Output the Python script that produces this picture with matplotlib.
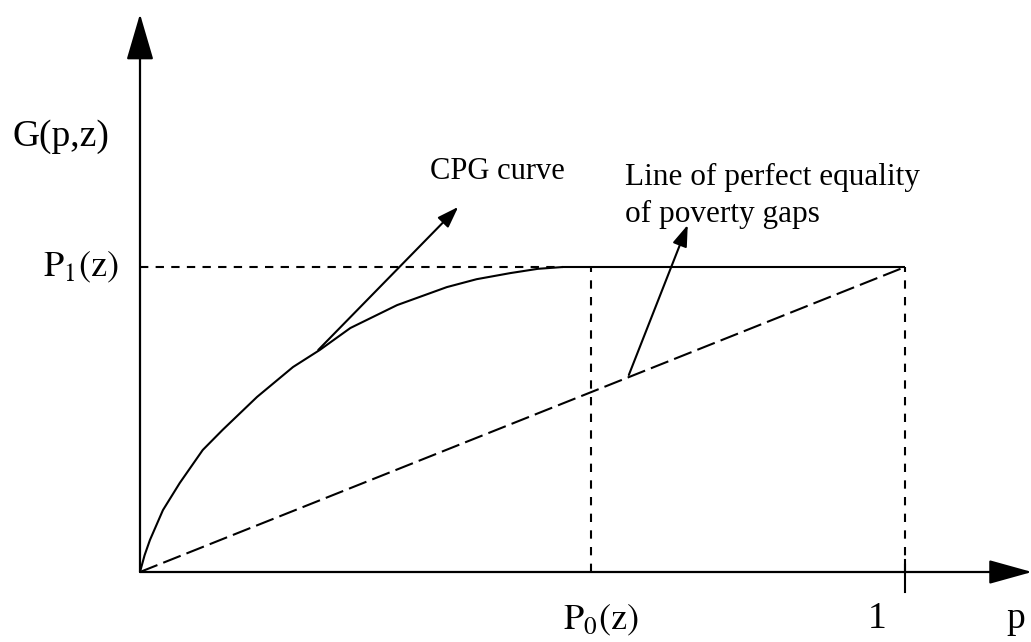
import matplotlib
matplotlib.use("Agg")
import matplotlib.pyplot as plt
from matplotlib.patches import FancyArrowPatch

plt.rcParams['font.family'] = ['Liberation Serif', 'DejaVu Serif']
plt.rcParams['mathtext.fontset'] = 'stix'

# ---- data (p on x, G(p,z) on y; P1(z) normalised to 1) ----
P1 = 1.0
P0 = 0.59
cpg_p = [0.0, 0.006, 0.013, 0.030, 0.052, 0.082, 0.108, 0.153, 0.200, 0.235, 0.275,
         0.336, 0.401, 0.440, 0.484, 0.520, 0.553, 0.59, 1.0]
cpg_g = [0.0, 0.055, 0.105, 0.203, 0.292, 0.400, 0.466, 0.574, 0.672, 0.728, 0.800,
         0.875, 0.934, 0.960, 0.980, 0.994, 1.0, 1.0, 1.0]
eq_p = [0.0, 1.0]
eq_g = [0.0, P1]

# annotation arrows: (start, end)
cpg_arrow = ((0.233, 0.728), (0.416, 1.197))
eq_arrow = ((0.639, 0.646), (0.716, 1.138))

W, H = 1031, 642
fig = plt.figure(figsize=(W / 100, H / 100), dpi=100)
ax = fig.add_axes([0, 0, 1, 1])
# origin at pixel (140, 572), p=1 at 905, P1 at 267
x0, x1 = 140, 905
y0, y1 = 572, 267
sx = (x1 - x0)
sy = (y0 - y1) / P1
ax.set_xlim(-x0 / sx, (W - x0) / sx)
ax.set_ylim(-(H - y0) / sy, y0 / sy)
ax.axis('off')

lw = 1.6
# axes with arrows
ax.add_patch(FancyArrowPatch((0, 0), (0, (y0 - 14) / sy),
                             arrowstyle='-|>,head_length=29,head_width=8.5',
                             mutation_scale=1, lw=lw, color='black',
                             shrinkA=0, shrinkB=0))
ax.add_patch(FancyArrowPatch((0, 0), ((W - x0 + 1) / sx, 0),
                             arrowstyle='-|>,head_length=27,head_width=7.5',
                             mutation_scale=1, lw=lw, color='black',
                             shrinkA=0, shrinkB=0))

# CPG curve
ax.plot(cpg_p, cpg_g, color='black', lw=1.5, solid_capstyle='butt')
# line of perfect equality
ax.plot(eq_p, eq_g, color='black', lw=1.5, linestyle=(0, (9, 3)))
# dashed guides
ax.plot([0, 0.553], [P1, P1], color='black', lw=1.5, linestyle=(0, (4, 3.5)))
ax.plot([P0, P0], [0, P1], color='black', lw=1.5, linestyle=(0, (4, 4)))
ax.plot([1, 1], [0, P1], color='black', lw=1.5, linestyle=(0, (4, 4)))
# small tick at p = 1
ax.plot([1, 1], [12 / sy, -20 / sy], color='black', lw=1.5)

# annotation arrows
for (s, e) in (cpg_arrow, eq_arrow):
    ax.add_patch(FancyArrowPatch(s, e,
                                 arrowstyle='-|>,head_length=13,head_width=4.5',
                                 mutation_scale=1, lw=1.5, color='black',
                                 shrinkA=0, shrinkB=0))

lab = 27
ann = 22.5
ax.text(-128 / sx, (y0 - 137) / sy, 'G(p,z)', fontsize=lab, ha='left', va='center')
ax.text(-97 / sx, P1, r'$\mathrm{P_1(z)}$', fontsize=lab - 1, ha='left', va='center')
ax.text(P0 - 28 / sx, -(620 - y0) / sy, r'$\mathrm{P_0(z)}$', fontsize=lab - 1,
        ha='left', va='center')
ax.text((877 - x0) / sx, -(619 - y0) / sy, '1', fontsize=lab, ha='center', va='center')
ax.text((1016 - x0) / sx, -(619 - y0) / sy, 'p', fontsize=lab, ha='center', va='center')
ax.text((430 - x0) / sx, (y0 - 179) / sy, 'CPG curve', fontsize=ann - 0.5,
        ha='left', va='baseline')
ax.text((625 - x0) / sx, (y0 - 185) / sy, 'Line of perfect equality', fontsize=ann,
        ha='left', va='baseline')
ax.text((625 - x0) / sx, (y0 - 222) / sy, 'of poverty gaps', fontsize=ann,
        ha='left', va='baseline')

fig.savefig('out.png', dpi=100)
